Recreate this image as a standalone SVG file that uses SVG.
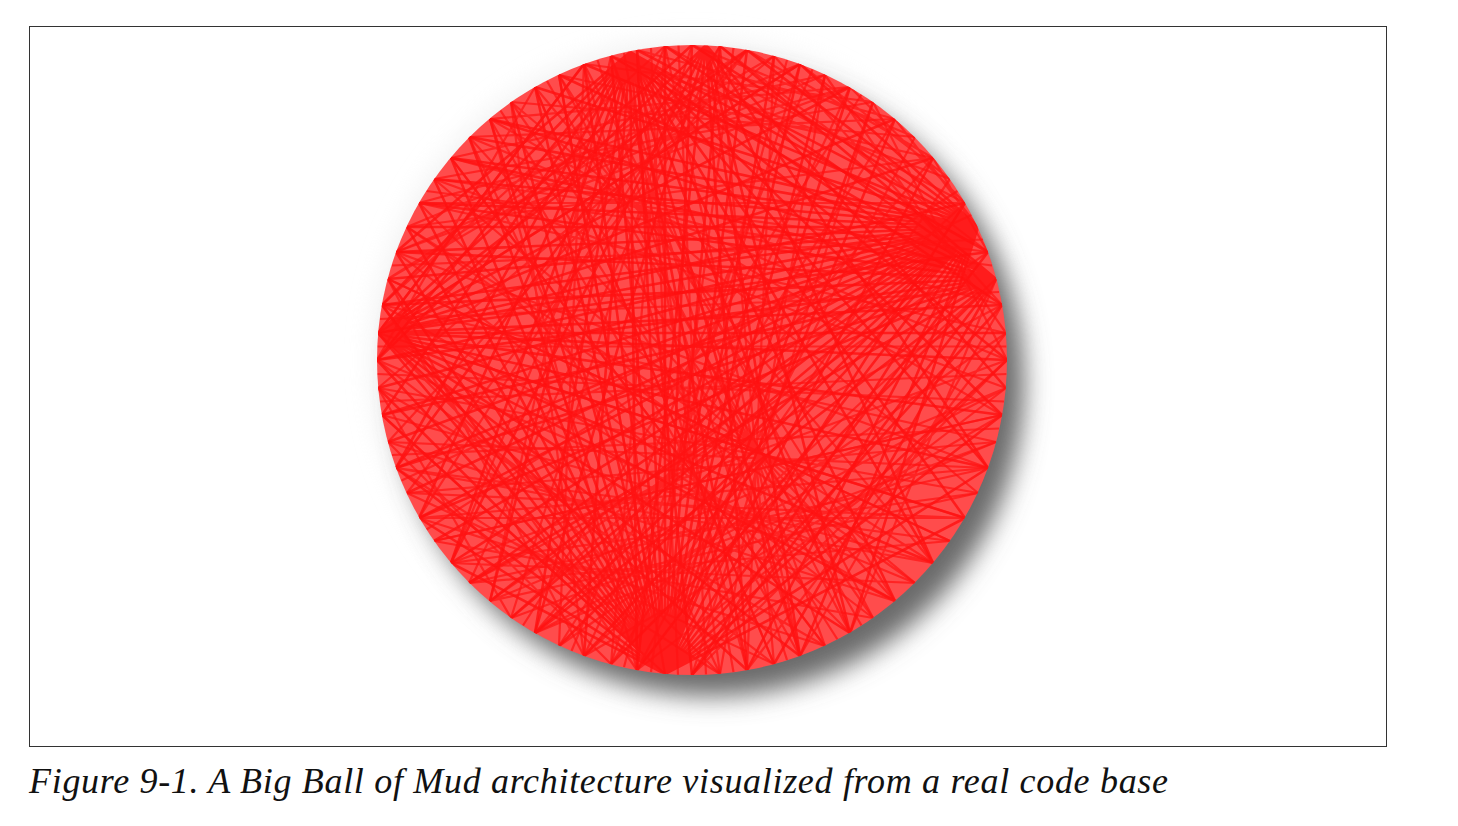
<svg xmlns="http://www.w3.org/2000/svg" width="1458" height="826" viewBox="0 0 1458 826">
<style>
.hub{fill:none;stroke:#ff1010;stroke-width:2.6;stroke-opacity:0.8}
.mesh{fill:none;stroke:#ff1414;stroke-width:2.2;stroke-opacity:0.72}
.caption{font-family:"Liberation Serif",serif;font-style:italic;font-size:36px;fill:#111}
</style>
<defs>
<filter id="shadow" x="-20%" y="-20%" width="140%" height="140%"><feGaussianBlur stdDeviation="13"/></filter>
<clipPath id="ball"><circle cx="692" cy="360" r="315"/></clipPath>
</defs>
<rect width="1458" height="826" fill="#fff"/>
<rect x="29.5" y="26.5" width="1357" height="720" fill="none" stroke="#333" stroke-width="1"/>
<g id="ball-shadow">
<circle cx="692" cy="360" r="320" fill="#e8e8e8" filter="url(#shadow)" opacity="0.6"/>
<circle cx="712" cy="384" r="312" fill="#6a6a6a" filter="url(#shadow)"/>
</g>
<g id="ball-node">
<circle cx="692" cy="360" r="315" fill="#ff4c4c"/>
<g clip-path="url(#ball)">
<path class="hub" d="M665 674L451 563M665 674L419 518M665 674L396 468M665 674L382 415M665 674L378 388M665 674L377 360M665 674L378 333M665 674L382 305M665 674L388 279M665 674L396 252M665 674L407 227M665 674L419 203M665 674L434 179M665 674L451 158M665 674L469 137M665 674L490 119M665 674L511 102M665 674L535 87M665 674L559 75M665 674L584 64M665 674L611 56M665 674L637 50M665 674L665 46M665 674L692 45M665 674L720 46M665 674L747 50M665 674L774 56M665 674L800 64M665 674L825 75M665 674L850 87M665 674L873 102M665 674L895 119M665 674L933 158M665 674L965 203M665 674L988 252M665 674L1002 305M665 674L1007 360M665 674L1002 415M665 674L988 468M665 674L965 518"/>
<path class="hub" d="M978 227L637 670M978 227L584 656M978 227L559 646M978 227L535 633M978 227L511 618M978 227L490 601M978 227L469 583M978 227L451 563M978 227L434 541M978 227L419 518M978 227L407 493M978 227L396 468M978 227L388 442M978 227L382 415M978 227L378 388M978 227L377 360M978 227L378 333M978 227L382 305M978 227L388 279M978 227L396 252M978 227L407 227M978 227L419 203M978 227L434 179M978 227L451 158M978 227L469 137M978 227L490 119M978 227L535 87M978 227L584 64M978 227L637 50M978 227L692 45M978 227L747 50M978 227L800 64M978 227L850 633M978 227L800 656M978 227L747 670M978 227L692 675"/>
<path class="hub" d="M996 279L535 633M996 279L469 583M996 279L419 518M996 279L396 468M996 279L382 415M996 279L377 360M996 279L382 305M996 279L396 252M996 279L419 203M996 279L451 158M996 279L490 119M996 279L559 75M996 279L611 56M996 279L665 46M996 279L720 46M996 279L692 675M996 279L774 664M996 279L611 664"/>
<path class="hub" d="M630 52L933 563M630 52L895 601M630 52L850 633M630 52L800 656M630 52L747 670M630 52L692 675M630 52L637 670M630 52L584 656M630 52L535 633M630 52L490 601M630 52L451 563M630 52L419 518M630 52L396 468M630 52L382 415M630 52L377 360M630 52L382 305M630 52L396 252M630 52L1002 415M630 52L988 468M630 52L965 518M630 52L1007 360M630 52L1002 305M630 52L988 252"/>
<path class="hub" d="M378 333L1007 360M378 333L1002 415M378 333L988 468M378 333L965 518M378 333L933 563M378 333L895 601M378 333L850 633M378 333L800 656M378 333L747 670M378 333L850 87M378 333L895 119M378 333L933 158M378 333L965 203M378 333L988 252M378 333L1002 305M378 333L1006 333M378 333L800 64M378 333L747 50M378 333L692 45M378 333L584 64"/>
<path class="hub" d="M706 45L637 670M706 45L535 633M706 45L451 563M706 45L396 468M706 45L377 360M706 45L850 633M706 45L800 656M706 45L747 670M706 45L933 563M706 45L988 468M706 45L1006 388"/>
<path class="mesh" d="M396 252L988 468M419 203L1006 333M434 179L1006 388M382 305L996 442M388 279L950 541M407 227L915 583M451 158L825 646M469 137L720 674M490 119L637 670M511 102L584 656M535 87L774 664M559 75L665 674M584 64L559 646M611 56L490 601M665 46L451 563M720 46L419 518M747 50L388 442M774 56L378 388M800 64L378 333M825 75L396 252M850 87L419 203M873 102L434 179M895 119L469 137M915 137L511 102M933 158L559 75M950 179L611 56M965 203L665 46M988 252L720 46M1002 305L774 56M1006 333L825 75M1007 360L873 102"/>
<path class="mesh" d="M1006 388L490 601M1002 415L434 541M996 442L407 493M988 468L388 442M978 493L378 388M965 518L378 333M950 541L388 279M933 563L407 227M915 583L434 179M895 601L469 137M873 618L511 102M850 633L559 75M825 646L611 56M800 656L665 46M774 664L720 46M747 670L774 56M720 674L825 75M692 675L873 102M637 670L915 137M611 664L950 179M584 656L996 279M559 646L1006 333M535 633L1006 388M511 618L996 442M490 601L978 493M469 583L950 541M451 563L915 583M434 541L873 618M419 518L825 646M407 493L774 664M396 468L720 674M388 442L611 664M382 415L665 674M378 388L511 618"/>
<path class="mesh" d="M377 360L535 87M378 333L584 64M382 305L665 46M388 279L747 50M396 252L850 87M407 227L933 158M419 203L965 203M434 179L988 252M451 158L1002 305M469 137L1007 360M490 119L1002 415M511 102L978 493M535 87L933 563M559 75L895 601M584 64L873 618M611 56L800 656M651 48L678 675M665 46L611 664M692 45L511 618M720 46L469 583M747 50L407 493M774 56L388 279M800 64L407 227M825 75L451 158M850 87L490 119M873 102L584 64M895 119L637 50M915 137L692 45M933 158L747 50M950 179L800 64M965 203L850 87M978 227L895 119M988 252L933 158"/>
<path class="mesh" d="M996 279L850 633M1002 305L800 656M1006 333L747 670M1007 360L692 675M1006 388L637 670M1002 415L584 656M996 442L535 633M988 468L469 583M978 493L451 563M965 518L419 518M950 541L396 468M933 563L382 415M915 583L377 360M895 601L382 305M873 618L396 252M850 633L419 203M825 646L451 158M800 656L490 119M774 664L535 87M747 670L584 64M720 674L637 50M611 664L800 64M584 656L850 87M559 646L895 119M535 633L933 158M511 618L965 203M490 601L988 252M469 583L1002 305M451 563L1007 360M434 541L1002 415M419 518L988 468M407 493L965 518M396 468L933 563M388 442L895 601M378 388L825 646M377 360L774 664M378 333L720 674M382 305L637 670M388 279L584 656"/>
<path class="mesh" d="M377.5 346.5L1006.5 346.5M380 319L999 292M377.5 374L1004 401.5M678.5 45.5L706 674.5M733.5 48L651 672M597.5 60L787 660M787 60L624 667M392 265.5L983 239.5M426.5 191L992 265.5M380 401.5L1006.5 374M392 455L999 428.5M500.5 110.5L837.5 639.5M547 81L861.5 625.5M624 53L733.5 672M812.5 69.5L571.5 651M861.5 94.5L523 625.5M426.5 529.5L957.5 191M401.5 480.5L971.5 215"/>
</g>
</g>
<text id="caption" class="caption" x="29" y="793" textLength="1139" lengthAdjust="spacing">Figure 9-1. A Big Ball of Mud architecture visualized from a real code base</text>
</svg>
